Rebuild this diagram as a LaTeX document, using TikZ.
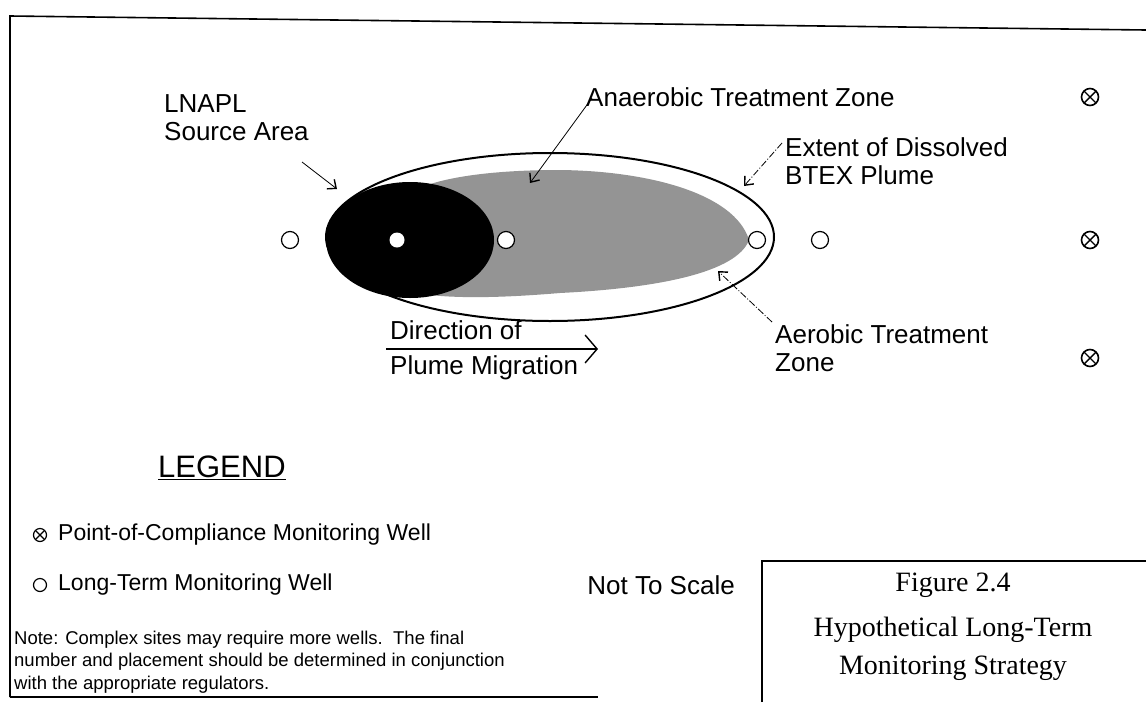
\documentclass[tikz,border=0pt]{standalone}
\usepackage{fontspec}
\setmainfont{Liberation Sans}
\newfontfamily\figfont{Liberation Serif}
\usetikzlibrary{arrows.meta}
\begin{document}
\begin{tikzpicture}[x=1pt,y=-1pt,
  lbl/.style={font=\fontsize{26}{28}\selectfont, align=left, inner sep=0pt},
  itemtxt/.style={font=\fontsize{23}{26}\selectfont, inner sep=0pt},
  notetxt/.style={font=\fontsize{18.5}{22.5}\selectfont, align=left, inner sep=0pt},
  figtxt/.style={font=\figfont\fontsize{28}{32}\selectfont, inner sep=0pt},
  ltm/.style={circle, draw, line width=1.2pt, fill=white, minimum size=17pt, inner sep=0pt},
  poc/.style={circle, draw, line width=1.6pt, minimum size=17pt, inner sep=0pt,
    path picture={\draw[line width=1.4pt] (path picture bounding box.south west) -- (path picture bounding box.north east)
      (path picture bounding box.north west) -- (path picture bounding box.south east);}},
  leader/.style={line width=0.8pt, -{Straight Barb[length=7pt,width=12pt,line width=1.4pt]}},
  frame/.style={line width=1.6pt}
]
\useasboundingbox (0,0) rectangle (1146,702);
% frame
\draw[frame] (10,697) -- (10,16) -- (1146,30);
\draw[frame] (10,697) -- (598,697);
\draw[frame] (762,702) -- (762,561) -- (1146,561);

% plume
\draw[line width=2pt, fill=white] (550,237) ellipse [x radius=224, y radius=84];
\path[fill=black!42] (749,240) .. controls (735,194) and (650,171) .. (560,170)
   .. controls (480,170) and (420,180) .. (400,200) -- (400,290)
   .. controls (440,300) and (500,298) .. (560,293)
   .. controls (660,288) and (737,272) .. (749,240) -- cycle;
\fill[black] (410,240) ellipse [x radius=84, y radius=58];

% wells
\node[ltm] (w1) at (290,240) {};
\node[circle, fill=white, minimum size=15pt, inner sep=0pt] (w2) at (397,240) {};
\node[ltm] (w3) at (506,240) {};
\node[ltm] (w4) at (757,240) {};
\node[ltm] (w5) at (820,240) {};
\node[poc] (p1) at (1090,97) {};
\node[poc] (p2) at (1090,240) {};
\node[poc] (p3) at (1090,358) {};

% labels
\node[lbl, anchor=west] (lnapl) at (164,118) {LNAPL\\Source Area};
\node[lbl, anchor=west] (anaer) at (586,97) {Anaerobic Treatment Zone};
\node[lbl, anchor=west] (extent) at (785,161) {Extent of Dissolved\\BTEX Plume};
\node[lbl, anchor=west] (aerob) at (775,348) {Aerobic Treatment\\Zone};
\node[lbl, anchor=base west] (dir1) at (390,339) {Direction of};
\node[lbl, anchor=base west] (dir2) at (390,374) {Plume Migration};

% leader arrows
\coordinate (tSrc) at (337,189);
\coordinate (tAna) at (530,183);
\coordinate (tExt) at (744,186);
\coordinate (tAer) at (718,271);
\draw[leader] (302,162) -- (tSrc);
\draw[leader] (592,98) -- (tAna);
\draw[leader, dash pattern=on 7pt off 2pt on 1pt off 2pt] (782,143) -- (tExt);
\draw[leader, dash pattern=on 7pt off 2pt on 1pt off 2pt] (772,322) -- (tAer);

% migration arrow
\coordinate (mA) at (386,349);
\coordinate (mB) at (598,349);
\draw[line width=1.4pt, -{Straight Barb[length=12pt,width=28pt,line width=1.4pt]}] (mA) -- (mB);

% legend
\node[font=\fontsize{31}{34}\selectfont, inner sep=0pt, anchor=west] (leg) at (158,468) {\underline{LEGEND}};
\node[poc, minimum size=13pt, line width=1.2pt] (lp) at (40,535) {};
\node[itemtxt, anchor=west] (lpt) at (58,535) {Point-of-Compliance Monitoring Well};
\node[ltm, minimum size=13pt] (ll) at (40,585) {};
\node[itemtxt, anchor=west] (llt) at (58,585) {Long-Term Monitoring Well};
\node[notetxt, anchor=west] (note) at (14,662) {Note: Complex sites may require more wells.\ \ The final\\number and placement should be determined in conjunction\\with the appropriate regulators.};
\node[lbl, anchor=east] (nts) at (735,585) {Not To Scale};

% figure title
\node[figtxt] (f1) at (953,585) {Figure 2.4};
\node[figtxt] (f2) at (953,630) {Hypothetical Long-Term};
\node[figtxt] (f3) at (953,668) {Monitoring Strategy};
\end{tikzpicture}
\end{document}
